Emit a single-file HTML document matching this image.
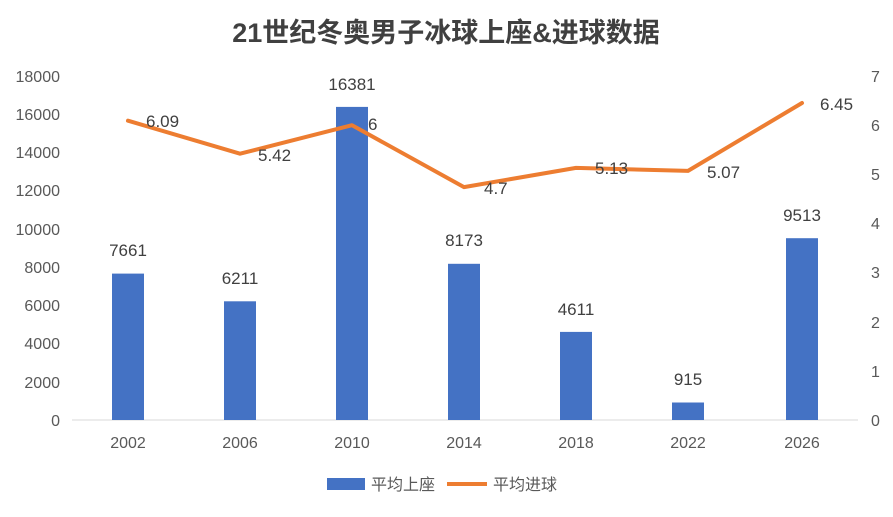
<!DOCTYPE html>
<html><head><meta charset="utf-8"><style>
body{margin:0;background:#fff;}
svg text{font-family:"Liberation Sans","Noto Sans CJK SC",sans-serif;}
</style></head><body>
<svg width="893" height="512" xmlns="http://www.w3.org/2000/svg">
<rect width="893" height="512" fill="#fff"/>
<text x="446" y="42" text-anchor="middle" font-size="27" font-weight="bold" fill="#404040">21世纪冬奥男子冰球上座&amp;进球数据</text>
<g font-size="16" fill="#595959" text-anchor="end">
<text x="60" y="82">18000</text><text x="60" y="120">16000</text><text x="60" y="158">14000</text>
<text x="60" y="196">12000</text><text x="60" y="235">10000</text><text x="60" y="273">8000</text>
<text x="60" y="311">6000</text><text x="60" y="349">4000</text><text x="60" y="388">2000</text>
<text x="60" y="426">0</text></g>
<g font-size="16" fill="#595959" text-anchor="start">
<text x="871" y="82">7</text><text x="871" y="131">6</text><text x="871" y="180">5</text>
<text x="871" y="229">4</text><text x="871" y="278">3</text><text x="871" y="328">2</text>
<text x="871" y="377">1</text><text x="871" y="426">0</text></g>
<line x1="72" y1="420" x2="858" y2="420" stroke="#d9d9d9" stroke-width="1"/>
<g fill="#4472C4">
<rect x="112" y="273.6" width="32" height="146.4"/>
<rect x="224" y="301.3" width="32" height="118.7"/>
<rect x="336" y="106.9" width="32" height="313.1"/>
<rect x="448" y="263.8" width="32" height="156.2"/>
<rect x="560" y="331.9" width="32" height="88.1"/>
<rect x="672" y="402.5" width="32" height="17.5"/>
<rect x="786" y="238.2" width="32" height="181.8"/>
</g>
<g font-size="17" fill="#404040" text-anchor="middle">
<text x="128" y="256">7661</text><text x="240" y="284">6211</text><text x="352" y="90">16381</text>
<text x="464" y="246">8173</text><text x="576" y="315">4611</text><text x="688" y="385">915</text>
<text x="802" y="221">9513</text></g>
<polyline fill="none" stroke="#ED7D31" stroke-width="4" stroke-linejoin="round" stroke-linecap="round"
points="128,120.7 240,153.7 352,125.2 464,187.1 576,167.9 688,170.9 802,103.0"/>
<g font-size="17" fill="#404040">
<text x="146" y="127">6.09</text><text x="258" y="161">5.42</text><text x="368" y="130">6</text>
<text x="484" y="194">4.7</text><text x="595" y="174">5.13</text><text x="707" y="178">5.07</text>
<text x="820" y="110">6.45</text></g>
<g font-size="16" fill="#595959" text-anchor="middle">
<text x="128" y="448">2002</text><text x="240" y="448">2006</text><text x="352" y="448">2010</text>
<text x="464" y="448">2014</text><text x="576" y="448">2018</text><text x="688" y="448">2022</text>
<text x="802" y="448">2026</text></g>
<rect x="327" y="478" width="38" height="12" fill="#4472C4"/>
<text x="371" y="490" font-size="16" fill="#595959">平均上座</text>
<line x1="447" y1="484" x2="487" y2="484" stroke="#ED7D31" stroke-width="4"/>
<text x="493" y="490" font-size="16" fill="#595959">平均进球</text>
</svg>
</body></html>
